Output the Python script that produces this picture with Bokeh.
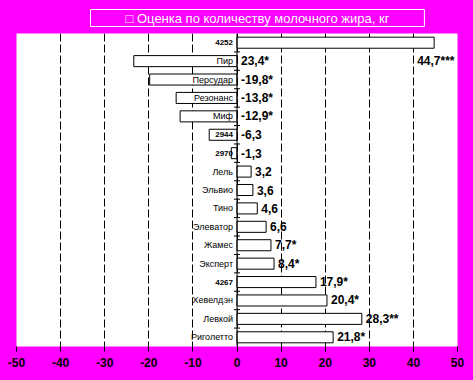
from bokeh.plotting import figure
from bokeh.models import ColumnDataSource, Range1d, FixedTicker, Span, Title
from bokeh.core.properties import value
from bokeh.embed import file_html
from bokeh.resources import INLINE

categories = ["4252", "Пир", "Персудар", "Резонанс", "Миф", "2944", "2970", "Лель", "Эльвио",
              "Тино", "Элеватор", "Жамес", "Эксперт", "4267", "Хевелдэн", "Левкой", "Риголетто"]
values = [44.7, -23.4, -19.8, -13.8, -12.9, -6.3, -1.3, 3.2, 3.6, 4.6, 6.6, 7.7, 8.4, 17.9, 20.4, 28.3, 21.8]
value_labels = ["44,7***", "23,4*", "-19,8*", "-13,8*", "-12,9*", "-6,3", "-1,3", "3,2", "3,6", "4,6",
                "6,6", "7,7*", "8,4*", "17,9*", "20,4*", "28,3**", "21,8*"]
x_ticks = [-50, -40, -30, -20, -10, 0, 10, 20, 30, 40, 50]
x_tick_labels = ["-50", "-40", "-30", "-20", "-10", "0", "10", "20", "30", "40", "50"]
legend_text = "\u25a1 Оценка по количеству молочного жира, кг"

MAGENTA = "#FF00FF"
FONT = "Liberation Sans"

n = len(categories)
ys = list(range(n))

title = Title(text=legend_text, align="left", offset=74, standoff=14,
              text_font=FONT, text_font_size="13px", text_font_style="normal",
              text_color="white", border_line_color="white", border_line_width=1,
              background_fill_color=None,
              padding=dict(left=35, right=35, top=1, bottom=1))

p = figure(width=473, height=380, output_backend="svg", toolbar_location=None,
           x_range=Range1d(-50, 50), y_range=Range1d(n - 0.5, -0.5),
           y_axis_location=None, min_border_left=16, min_border_right=16,
           min_border_top=33, min_border_bottom=34, title=title)
p.background_fill_color = "white"
p.border_fill_color = MAGENTA
p.outline_line_color = None

# x axis
ax = p.xaxis[0]
ax.ticker = FixedTicker(ticks=x_ticks)
ax.major_label_overrides = {t: l for t, l in zip(x_ticks, x_tick_labels)}
ax.axis_line_color = None
ax.major_tick_line_color = "black"
ax.major_tick_out = 5
ax.major_tick_in = 0
ax.minor_tick_line_color = None
ax.major_label_text_font = FONT
ax.major_label_text_font_size = "12px"
ax.major_label_text_font_style = "bold"
ax.major_label_text_color = "black"
ax.major_label_standoff = 6

p.xgrid.grid_line_color = "black"
p.xgrid.grid_line_dash = "8 3"
p.xgrid.grid_line_width = 1
p.ygrid.grid_line_color = None

src = ColumnDataSource(dict(
    y=ys, cat=categories, val=values, lab=value_labels,
    zero=[0] * n,
    lab_x=[v if v > 0 else 0 for v in values],
    cat_style=["bold" if c.isdigit() else "normal" for c in categories],
    cat_size=["8px" if c.isdigit() else "9px" for c in categories],
))

p.hbar(y="y", left=0, right="val", height=0.6, source=src,
       fill_color="white", line_color="black", line_width=1)

p.add_layout(Span(location=0, dimension="height", line_color="black", line_width=1))

# small category ticks on the zero axis
bounds = [i + 0.5 for i in range(n - 1)]
p.scatter(x=[0] * len(bounds), y=bounds, marker="dash", size=6, line_color="black", line_width=1)

# category labels left of the zero axis
p.text(x="zero", y="y", text="cat", source=src, text_align="right", text_baseline="middle",
       x_offset=-4, text_font=value(FONT), text_font_size="cat_size",
       text_font_style="cat_style", text_color="black")

# value labels (first one is displaced below its bar)
src_main = ColumnDataSource(dict(x=src.data["lab_x"][1:], y=ys[1:], lab=value_labels[1:]))
p.text(x="x", y="y", text="lab", source=src_main, text_align="left", text_baseline="middle",
       x_offset=4, text_font=value(FONT), text_font_size="12px", text_font_style="bold",
       text_color="black")
src_first = ColumnDataSource(dict(x=[values[0]], y=[ys[0] + 1], lab=[value_labels[0]]))
p.text(x="x", y="y", text="lab", source=src_first, text_align="left", text_baseline="middle",
       x_offset=-17, text_font=value(FONT), text_font_size="12px", text_font_style="bold",
       text_color="black")

html = file_html(p, INLINE)
html = html.replace("</head>", "<style>html, body { background: #FF00FF; }</style></head>", 1)
open("out.html", "w").write(html)
